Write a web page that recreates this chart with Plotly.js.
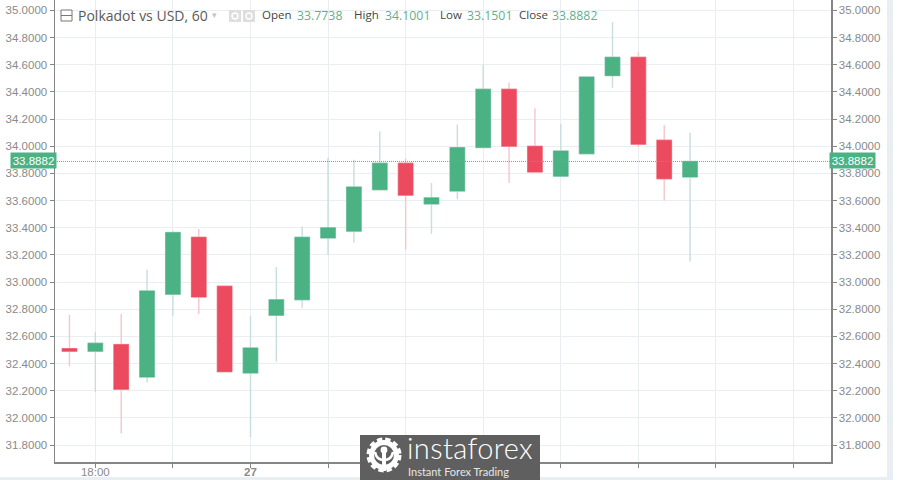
<!DOCTYPE html>
<html>
<head>
<meta charset="utf-8">
<script src="https://cdn.plot.ly/plotly-3.0.1.min.js"></script>
<style>
html,body{margin:0;padding:0;background:#fff;overflow:hidden}
#wrap{position:relative;width:900px;height:480px;overflow:hidden}
#chart{position:absolute;left:0;top:0;width:900px;height:480px}
#stripR{position:absolute;left:887px;top:0;width:6px;height:480px;background:#e9eef2}
#stripB{position:absolute;left:0;top:477px;width:893px;height:3px;background:#e9eef2}
#logo{position:absolute;left:360px;top:435px;width:180px;height:45px;background:#5f5f5f;color:#fff;font-family:'Lato','Open Sans',sans-serif}
#logo svg{position:absolute;left:5px;top:2px}
#logo .a{position:absolute;left:47px;top:-1px;font-size:29px;font-weight:300;line-height:28px;white-space:nowrap;letter-spacing:.4px}
#logo .b{position:absolute;left:48px;top:31px;font-size:11px;line-height:12px;white-space:nowrap;color:#e8e8e8}
</style>
</head>
<body>
<div id="wrap">
<div id="stripR"></div><div id="stripB"></div>
<div id="chart"></div>
<div id="logo">
<svg width="38" height="38" viewBox="0 0 38 38">
<circle cx="19" cy="18" r="12.5" fill="none" stroke="#fff" stroke-width="5"/>
<circle cx="19" cy="18" r="15.5" fill="none" stroke="#fff" stroke-width="4" stroke-dasharray="5.2 3"/>
<circle cx="19" cy="13" r="3.4" fill="#fff"/>
<path d="M19 16V34" stroke="#fff" stroke-width="4"/>
<path d="M10 15C11 21 14 23 19 23C24 23 27 21 28 15" fill="none" stroke="#fff" stroke-width="2.6"/>
</svg>
<div class="a">instaforex</div>
<div class="b">Instant Forex Trading</div>
</div>
</div>
<script>
var candleIndex = [0,1,2,3,4,5,6,7,8,9,10,11,12,13,14,15,16,17,18,19,20,21,22,23,24];
var opens  = [32.51,32.49,32.54,32.30,32.91,33.33,32.97,32.33,32.755,32.87,33.325,33.375,33.68,33.875,33.575,33.67,33.99,34.42,34.00,33.78,33.945,34.52,34.655,34.045,33.7738];
var highs  = [32.76,32.635,32.765,33.09,33.38,33.39,32.97,32.75,33.11,33.41,33.915,33.90,34.11,33.91,33.73,34.16,34.60,34.47,34.28,34.165,34.51,34.915,34.695,34.155,34.1001];
var lows   = [32.38,32.19,31.885,32.26,32.75,32.765,32.34,31.86,32.415,32.81,33.20,33.29,33.68,33.24,33.355,33.61,33.99,33.73,33.81,33.78,33.945,34.43,33.995,33.60,33.1501];
var closes = [32.49,32.55,32.21,32.935,33.365,32.89,32.34,32.515,32.87,33.33,33.40,33.70,33.875,33.64,33.62,33.99,34.42,34.00,33.81,33.965,34.51,34.655,34.015,33.76,33.8882];
var xTickVals = [1,4,7,10,13,16,19,22,25,28];
var xTickText = ['18:00','','<b>27</b>','','','','','','',''];
var lastPrice = 33.8882;
var headerLabels = ['Open','High','Low','Close'];
var headerValues = ['33.7738','34.1001','33.1501','33.8882'];
var titleText = 'Polkadot vs USD, 60';

var GREEN='#4bb383', RED='#ec4a5e', PALEG='#c9dde0', PALER='#f5c6cb', GRID='#e9eef3', AX='#858585', TXT='#8a8a8a';
var xRange=[-0.56,29.45], yRange=[31.675,35.077];
var L=55,R=831,H=462;
function px(x){return (x-L)/(R-L);}
function py(y){return 1-y/H;}

var wicks={type:'candlestick',x:candleIndex,open:opens,high:highs,low:lows,close:closes,whiskerwidth:0,
  increasing:{line:{color:PALEG,width:1.4},fillcolor:GREEN},
  decreasing:{line:{color:PALER,width:1.4},fillcolor:RED},hoverinfo:'skip',showlegend:false};
var bodies={type:'candlestick',x:candleIndex,open:opens,close:closes,
  high:opens.map(function(o,i){return Math.max(o,closes[i]);}),
  low:opens.map(function(o,i){return Math.min(o,closes[i]);}),whiskerwidth:0,
  increasing:{line:{color:GREEN,width:0.5},fillcolor:GREEN},
  decreasing:{line:{color:RED,width:0.5},fillcolor:RED},showlegend:false};
var lastLine={type:'scatter',mode:'lines',x:xRange,y:[lastPrice,lastPrice],yaxis:'y2',
  line:{color:'#4db88e',width:1,dash:'1px,1px'},hoverinfo:'skip',showlegend:false};

var ann=[];
function label(x,y,t,color,size,extra){
  var a={xref:'paper',yref:'paper',x:px(x),y:py(y),text:t,showarrow:false,xanchor:'left',yanchor:'middle',
    font:{family:"'Open Sans',sans-serif",size:size,color:color},borderpad:0};
  for(var k in extra)a[k]=extra[k];
  ann.push(a);
}
label(77,15.5,titleText,'#5a5a5a',14);
label(211,15,'▾','#c4c4c4',9);
var lx=[261,353,439,518], vx=[296,384,466,551];
headerLabels.forEach(function(t,i){
  label(lx[i],15,t,'#444',11.5);
  label(vx[i],15.5,headerValues[i],'#5fb090',12.3);
});
var tagFont={family:"'Liberation Sans',Arial,sans-serif",size:11.5,color:'#fff'};
ann.push({xref:'paper',yref:'paper',x:px(33),y:py(160.5),text:lastPrice.toFixed(4),showarrow:false,xanchor:'center',yanchor:'middle',
  bgcolor:GREEN,font:tagFont,borderpad:1,width:43,height:13});
ann.push({xref:'paper',yref:'paper',x:px(853),y:py(160.5),text:lastPrice.toFixed(4),showarrow:false,xanchor:'center',yanchor:'middle',
  bgcolor:GREEN,font:tagFont,borderpad:1,width:43,height:13});

var shapes=[
 {type:'rect',xref:'paper',yref:'paper',x0:px(61),x1:px(72),y0:py(10),y1:py(21),line:{color:'#777',width:1},fillcolor:'#fff'},
 {type:'line',xref:'paper',yref:'paper',x0:px(61),x1:px(72),y0:py(15.5),y1:py(15.5),line:{color:'#777',width:1}},
 {type:'rect',xref:'paper',yref:'paper',x0:px(229),x1:px(241),y0:py(10),y1:py(22),line:{width:0},fillcolor:'#dedede'},
 {type:'rect',xref:'paper',yref:'paper',x0:px(243),x1:px(255),y0:py(10),y1:py(22),line:{width:0},fillcolor:'#dedede'},
 {type:'circle',xref:'paper',yref:'paper',x0:px(232),x1:px(238),y0:py(13),y1:py(19),line:{color:'#fff',width:1.5}},
 {type:'circle',xref:'paper',yref:'paper',x0:px(246),x1:px(252),y0:py(13),y1:py(19),line:{color:'#fff',width:1.5}}
];

var tickFont={family:"'Liberation Sans',Arial,sans-serif",size:11.5,color:TXT};
var yCommon={range:yRange,tick0:31.8,dtick:0.2,tickformat:'.4f',showline:true,linecolor:AX,linewidth:1.5,
  ticks:'outside',ticklen:4,tickcolor:AX,tickfont:tickFont,zeroline:false,fixedrange:true};
var layout={width:900,height:480,margin:{l:L,r:900-R,t:0,b:480-H,pad:0},
  paper_bgcolor:'rgba(0,0,0,0)',plot_bgcolor:'rgba(0,0,0,0)',showlegend:false,boxgap:0.19,dragmode:false,
  xaxis:{range:xRange,tickmode:'array',tickvals:xTickVals,ticktext:xTickText,showgrid:true,gridcolor:GRID,gridwidth:1,
    showline:true,linecolor:AX,linewidth:1.5,ticks:'outside',ticklen:4,tickcolor:AX,tickfont:tickFont,zeroline:false,
    ticklabelstandoff:-5,rangeslider:{visible:false},fixedrange:true},
  yaxis:Object.assign({side:'left',showgrid:true,gridcolor:GRID,gridwidth:1},yCommon),
  yaxis2:Object.assign({side:'right',overlaying:'y',showgrid:false},yCommon),
  annotations:ann,shapes:shapes};
Plotly.newPlot('chart',[wicks,bodies,lastLine],layout,{displayModeBar:false,staticPlot:true});
</script>
</body>
</html>
